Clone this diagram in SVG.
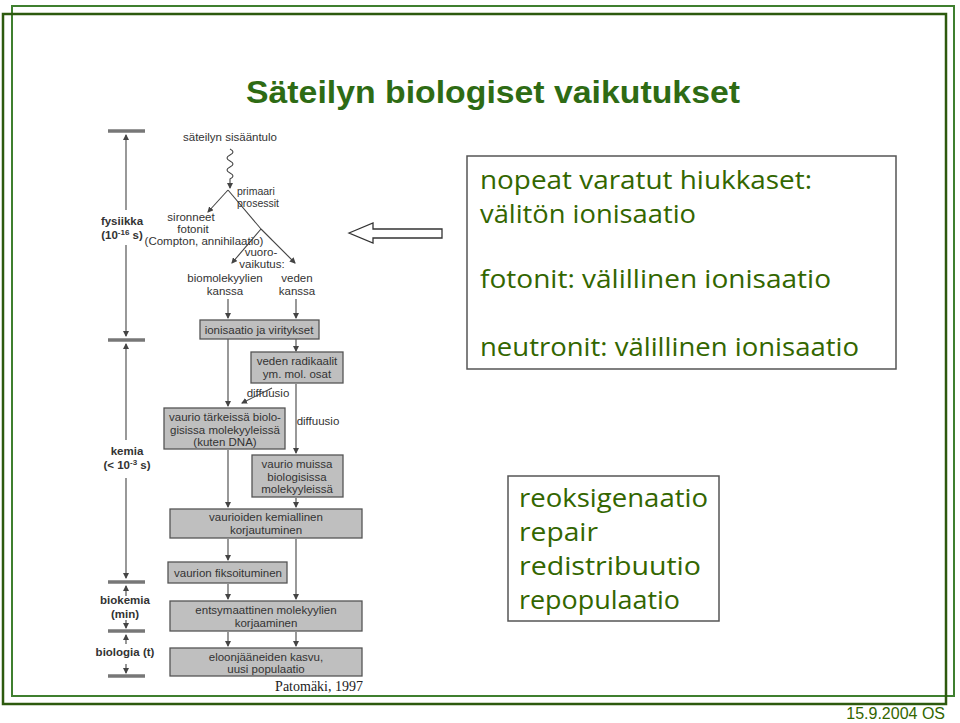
<svg xmlns="http://www.w3.org/2000/svg" width="960" height="723" viewBox="0 0 960 723">
<defs>
<marker id="ah" markerWidth="6" markerHeight="6" refX="5" refY="3" orient="auto" markerUnits="userSpaceOnUse"><path d="M0,0 L6,3 L0,6 z" fill="#444"/></marker>
<style>
.g{fill:#336600;font-family:"Comic Sans MS","Open Sans",sans-serif;font-size:26px}
.s{fill:#333;font-family:"Liberation Sans",Arial,sans-serif;font-size:11.5px;text-anchor:middle}
.st{fill:#333;font-family:"Liberation Sans",Arial,sans-serif;font-size:10.5px;text-anchor:start}
.sb{fill:#333;font-family:"Liberation Sans",Arial,sans-serif;font-size:11.5px;font-weight:bold;text-anchor:middle}
.bx{fill:#bfbfbf;stroke:#555;stroke-width:1.3}
.ln{stroke:#444;stroke-width:1.1;fill:none}
.lna{stroke:#444;stroke-width:1.1;fill:none;marker-end:url(#ah)}
.bar{stroke:#777;stroke-width:3.5}
.tb{fill:#fff;stroke:#555;stroke-width:1.5}
</style>
</defs>
<rect width="960" height="723" fill="#fff"/>
<rect x="12" y="6" width="942" height="690" fill="none" stroke="#3f7f2f" stroke-width="2"/>
<rect x="3" y="14" width="943" height="690" fill="none" stroke="#2d5a0e" stroke-width="2.5"/>
<text x="246" y="103" font-family="Liberation Sans,Arial,sans-serif" font-weight="bold" font-size="31" fill="#2e6b14" textLength="494" lengthAdjust="spacingAndGlyphs">Säteilyn biologiset vaikutukset</text>

<g id="timeline">
<line class="bar" x1="108" y1="131" x2="145" y2="131"/>
<line class="bar" x1="108" y1="340" x2="145" y2="340"/>
<line class="bar" x1="108" y1="582" x2="145" y2="582"/>
<line class="bar" x1="108" y1="631" x2="145" y2="631"/>
<line class="bar" x1="108" y1="676" x2="145" y2="676"/>
<line class="lna" x1="126" y1="210" x2="126" y2="135"/>
<line class="lna" x1="126" y1="245" x2="126" y2="336"/>
<line class="lna" x1="126" y1="440" x2="126" y2="344"/>
<line class="lna" x1="126" y1="478" x2="126" y2="578"/>
<line class="lna" x1="126" y1="596" x2="126" y2="586"/>
<line class="lna" x1="126" y1="620" x2="126" y2="628"/>
<line class="lna" x1="126" y1="644" x2="126" y2="635"/>
<line class="lna" x1="126" y1="664" x2="126" y2="673"/>
<text class="sb" x="122" y="225">fysiikka</text>
<text class="sb" x="122" y="239">(10<tspan font-size="8" dy="-4">-16</tspan><tspan dy="4"> s)</tspan></text>
<text class="sb" x="127" y="455">kemia</text>
<text class="sb" x="127" y="469">(&lt; 10<tspan font-size="8" dy="-4">-3</tspan><tspan dy="4"> s)</tspan></text>
<text class="sb" x="125" y="604">biokemia</text>
<text class="sb" x="125" y="618">(min)</text>
<text class="sb" x="125" y="656">biologia (t)</text>
</g>

<g id="connectors">
<path class="lna" d="M230,149 q6,3 0,6 q-6,3 0,6 q6,3 0,6 q-6,3 0,6 q6,3 0,6 l0,9"/>
<line class="lna" x1="228" y1="190" x2="208" y2="212"/>
<line class="ln" x1="228" y1="190" x2="261" y2="229"/>
<line class="lna" x1="261" y1="229" x2="232" y2="263"/>
<line class="lna" x1="261" y1="229" x2="295" y2="263"/>
<line class="lna" x1="228" y1="299" x2="228" y2="318"/>
<line class="lna" x1="296" y1="299" x2="296" y2="318"/>
<line class="lna" x1="228" y1="339" x2="228" y2="406"/>
<line class="lna" x1="296" y1="339" x2="296" y2="351"/>
<line class="lna" x1="272" y1="388" x2="242" y2="403"/>
<line class="lna" x1="296" y1="384" x2="296" y2="453"/>
<line class="lna" x1="228" y1="450" x2="228" y2="507"/>
<line class="lna" x1="296" y1="498" x2="296" y2="507"/>
<line class="lna" x1="228" y1="539" x2="228" y2="560"/>
<line class="lna" x1="296" y1="539" x2="296" y2="599"/>
<line class="lna" x1="228" y1="584" x2="228" y2="599"/>
<line class="lna" x1="228" y1="632" x2="228" y2="646"/>
<line class="lna" x1="296" y1="632" x2="296" y2="646"/>
</g>

<g id="labels">
<text class="s" x="230" y="141" font-size="12">säteilyn sisääntulo</text>
<text class="st" x="237" y="195">primaari</text>
<text class="st" x="237" y="207">prosessit</text>
<text class="s" x="191" y="221" font-size="12">sironneet</text>
<text class="s" x="193" y="233" font-size="12">fotonit</text>
<text class="s" x="204" y="245" font-size="8.5">(Compton, annihilaatio)</text>
<text class="s" x="261" y="256" font-size="10">vuoro-</text>
<text class="s" x="262" y="268" font-size="10">vaikutus:</text>
<text class="s" x="225" y="282" font-size="12">biomolekyylien</text>
<text class="s" x="225" y="295" font-size="12">kanssa</text>
<text class="s" x="297" y="282" font-size="12">veden</text>
<text class="s" x="297" y="295" font-size="12">kanssa</text>
<text class="s" x="268" y="397" font-size="10.5">diffuusio</text>
<text class="s" x="318" y="425" font-size="10.5">diffuusio</text>
</g>

<g id="n-ionisaatio"><rect class="bx" x="200" y="320" width="119" height="19"/><text class="s" x="259" y="334">ionisaatio ja viritykset</text></g>
<g id="n-radikaalit"><rect class="bx" x="251" y="352" width="92" height="31"/><text class="s" x="297" y="365">veden radikaalit</text><text class="s" x="297" y="378">ym. mol. osat</text></g>
<g id="n-tarkeissa"><rect class="bx" x="164" y="408" width="121" height="41"/><text class="s" x="225" y="421">vaurio tärkeissä biolo-</text><text class="s" x="225" y="434">gisissa molekyyleissä</text><text class="s" x="225" y="446">(kuten DNA)</text></g>
<g id="n-muissa"><rect class="bx" x="252" y="455" width="91" height="42"/><text class="s" x="297" y="468">vaurio muissa</text><text class="s" x="297" y="481">biologisissa</text><text class="s" x="297" y="493">molekyyleissä</text></g>
<g id="n-kemiallinen"><rect class="bx" x="170" y="509" width="192" height="29"/><text class="s" x="266" y="521">vaurioiden kemiallinen</text><text class="s" x="266" y="534">korjautuminen</text></g>
<g id="n-fiksoituminen"><rect class="bx" x="168" y="562" width="119" height="21"/><text class="s" x="228" y="577">vaurion fiksoituminen</text></g>
<g id="n-entsymaattinen"><rect class="bx" x="170" y="601" width="192" height="30"/><text class="s" x="266" y="614">entsymaattinen molekyylien</text><text class="s" x="266" y="627">korjaaminen</text></g>
<g id="n-eloon"><rect class="bx" x="170" y="648" width="192" height="28"/><text class="s" x="266" y="661">eloonjääneiden kasvu,</text><text class="s" x="266" y="673">uusi populaatio</text></g>
<text x="363" y="691" text-anchor="end" font-family="Liberation Serif,Times New Roman,serif" font-size="14" fill="#222">Patomäki, 1997</text>

<g id="arrow"><path d="M349,233 L373,223 L373,229 L442,229 L442,238 L373,238 L373,243 Z" fill="#fff" stroke="#333" stroke-width="1.3"/></g>

<g id="box-ionisaatio">
<rect class="tb" x="467" y="156" width="429" height="213"/>
<text class="g" x="480" y="189" font-size="23" textLength="332" lengthAdjust="spacingAndGlyphs">nopeat varatut hiukkaset:</text>
<text class="g" x="480" y="223" font-size="23" textLength="216" lengthAdjust="spacingAndGlyphs">välitön ionisaatio</text>
<text class="g" x="480" y="288" textLength="351" lengthAdjust="spacingAndGlyphs">fotonit: välillinen ionisaatio</text>
<text class="g" x="480" y="356" textLength="379" lengthAdjust="spacingAndGlyphs">neutronit: välillinen ionisaatio</text>
</g>
<g id="box-4r">
<rect class="tb" x="508" y="476" width="211" height="145"/>
<text class="g" x="519" y="507" font-size="27" textLength="189" lengthAdjust="spacingAndGlyphs">reoksigenaatio</text>
<text class="g" x="519" y="541" font-size="27" textLength="79" lengthAdjust="spacingAndGlyphs">repair</text>
<text class="g" x="519" y="575" font-size="27" textLength="182" lengthAdjust="spacingAndGlyphs">redistribuutio</text>
<text class="g" x="519" y="609" font-size="27" textLength="161" lengthAdjust="spacingAndGlyphs">repopulaatio</text>
</g>
<text x="945" y="719" text-anchor="end" font-family="Liberation Sans,Arial,sans-serif" font-size="16" fill="#336600">15.9.2004 OS</text>
</svg>
